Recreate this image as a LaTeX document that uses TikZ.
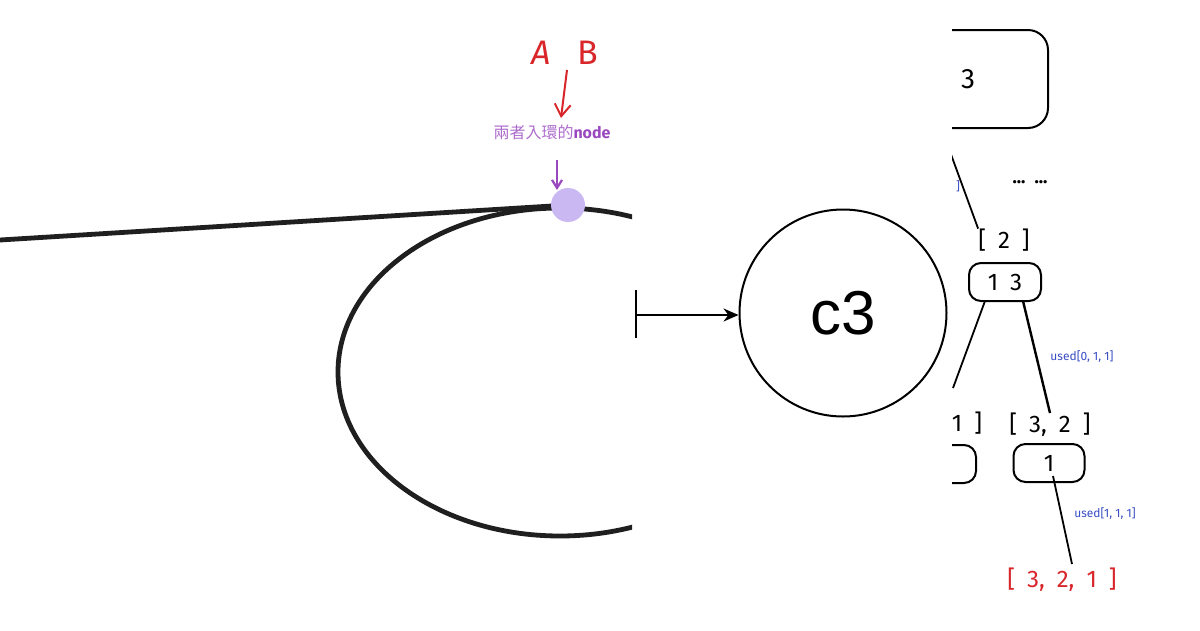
\documentclass[tikz,border=0pt]{standalone}
\usepackage{fontspec}
\setmainfont{Fira Sans}
\newfontfamily\arialf{Liberation Sans}
\newfontfamily\cjkf{Noto Sans CJK TC}
\usetikzlibrary{arrows.meta,calc,shapes.geometric}
\definecolor{lav}{HTML}{C9B8F2}
\definecolor{hred}{HTML}{D8262A}
\definecolor{hpurp}{HTML}{9A48C0}
\definecolor{hblue}{HTML}{3A4FC4}
\tikzset{
  thickline/.style={line width=4.8pt, draw=black!88},
  rbox/.style={draw, line width=2pt, rounded corners=12pt, inner sep=0pt},
  hand/.style={font=\fontsize{24}{26}\selectfont, inner sep=0pt},
  bluelbl/.style={font=\fontsize{12}{13}\selectfont, text=hblue, inner sep=0pt},
}
\begin{document}
\begin{tikzpicture}[x=1pt,y=-1pt]
\useasboundingbox (0,0) rectangle (1200,630);
\fill[white] (0,0) rectangle (1200,630);
% ---------------- left panel ----------------
\begin{scope}
\clip (0,0) rectangle (632,630);
\coordinate (m) at (568,205);
\coordinate (tail) at (0,240);
\draw[thickline] (tail) -- (m);
\draw[thickline] (560,372) ellipse [x radius=222, y radius=164];
\node[circle, fill=lav, minimum size=34pt, inner sep=0pt] (meet) at (m) {};
\node[text=hred, font=\fontsize{34}{36}\selectfont\itshape, inner sep=0pt] (A) at (541,53) {A};
\node[text=hred, font=\fontsize{34}{36}\selectfont, inner sep=0pt] (B) at (588,53) {B};
\node[inner sep=0pt] (lbl) at (552,132) {\cjkf\fontsize{16}{18}\selectfont\color{hpurp!80}兩者入環的\color{hpurp}\fontspec{Fira Sans}\bfseries node};
\coordinate (ra) at (567,70);
\coordinate (rb) at (561,118);
\draw[hred, line width=2pt, -{Straight Barb[length=12pt,width=16pt]}] (ra) -- (rb);
\coordinate (pa) at (557,160);
\coordinate (pb) at (557,190);
\draw[hpurp, line width=2.2pt, -{Straight Barb[length=8pt,width=10pt]}] (pa) -- (pb);
\end{scope}
% ---------------- middle panel ----------------
\begin{scope}
\clip (632,0) rectangle (952,630);
\node[circle, draw, line width=2pt, minimum size=207pt, inner sep=0pt,
      font=\arialf\fontsize{62}{62}\selectfont] (c3) at (843,313) {c3};
\coordinate (src) at (636,315);
\draw[line width=2.2pt, -{Stealth[length=15pt,width=13pt]}] (src) -- (c3.west |- src);
\coordinate (tk1) at (636,290);
\coordinate (tk2) at (636,338);
\draw[line width=2.5pt] (tk1) -- (tk2);
\end{scope}
% ---------------- right panel ----------------
\begin{scope}
\clip (952,0) rectangle (1200,630);
\node[rbox, rounded corners=20pt, minimum width=190pt, minimum height=98pt] (top) at (953,79) {};
\node[hand, font=\fontsize{28}{30}\selectfont] (t3) at (968,79) {3};
\node[bluelbl] (bl) at (958,186) {]};
\node[font=\fontsize{18}{18}\selectfont\bfseries, inner sep=0pt] (dots) at (1030,183) {\raisebox{0.3ex}{...}\enspace\raisebox{0.3ex}{...}};
\node[hand] (l2) at (1004,240) {[\enspace2\enspace]};
\coordinate (e1) at (945,138);
\draw[line width=1.8pt] (e1) -- (l2.north west);
\node[rbox, minimum width=72pt, minimum height=38pt, hand] (b13) at (1005,282) {1\enspace 3};
\coordinate (lc1) at ($(b13.south)+(-20,-1)$);
\coordinate (lc2) at (953,388);
\draw[line width=1.8pt] (lc1) -- (lc2);
\coordinate (rc1) at ($(b13.south)+(18,-1)$);
\node[hand] (l32) at (1050,425) {[\enspace3,\enspace2\enspace]};
\draw[line width=2.4pt] (rc1) -- (l32.north);
\node[bluelbl] (u1) at (1082,357) {used[0, 1, 1]};
\node[hand] (l31) at (967,423) {1\enspace]};
\node[rbox, minimum width=90pt, minimum height=38pt] (bl2) at (931,464) {};
\node[rbox, minimum width=71pt, minimum height=38pt, hand] (b1) at (1049,463) {1};
\node[hand, text=hred] (res) at (1062,580) {[\enspace3,\enspace2,\enspace1\enspace]};
\coordinate (d1) at (1053,476);
\draw[line width=1.8pt] (d1) -- ($(res.north)+(10,-4)$);
\node[bluelbl] (u2) at (1105,514) {used[1, 1, 1]};
\end{scope}
\end{tikzpicture}
\end{document}
